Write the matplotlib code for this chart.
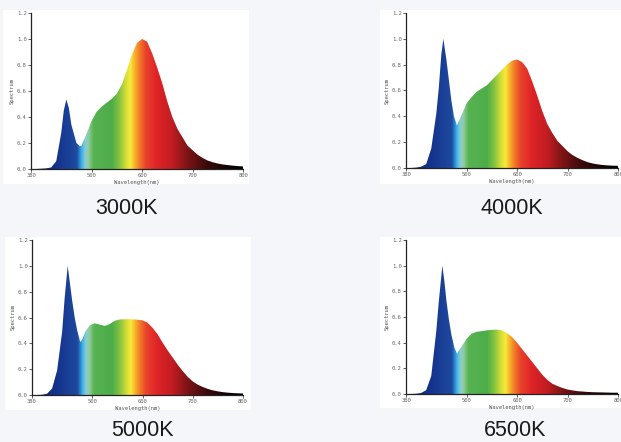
import matplotlib
matplotlib.use("Agg")
import matplotlib.pyplot as plt
import numpy as np
from matplotlib.colors import LinearSegmentedColormap
from matplotlib.patches import Rectangle

# ---------------- data ----------------
titles = ["3000K", "4000K", "5000K", "6500K"]

wl_3000 = [380, 390, 400, 410, 420, 430, 440, 445, 450, 455, 460, 470, 477, 480, 490, 500, 510,
           520, 530, 540, 550, 560, 570, 580, 590, 600, 610, 620, 630, 640, 650, 660, 670, 680,
           690, 700, 710, 720, 730, 740, 750, 760, 770, 780, 790, 800]
sp_3000 = [0.0, 0.0, 0.002, 0.005, 0.012, 0.06, 0.28, 0.45, 0.535, 0.47, 0.34, 0.2, 0.175, 0.18,
           0.27, 0.37, 0.44, 0.48, 0.51, 0.54, 0.58, 0.65, 0.76, 0.88, 0.97, 1.0, 0.98, 0.89, 0.78,
           0.66, 0.52, 0.40, 0.31, 0.245, 0.18, 0.145, 0.11, 0.085, 0.065, 0.052, 0.042, 0.035,
           0.03, 0.026, 0.022, 0.02]

wl_4000 = [380, 390, 400, 410, 420, 430, 440, 445, 450, 454, 460, 465, 470, 475, 481, 490, 500,
           510, 520, 530, 540, 550, 560, 570, 580, 590, 600, 610, 620, 630, 640, 650, 660, 670,
           680, 690, 700, 710, 720, 730, 740, 750, 760, 770, 780, 790, 800]
sp_4000 = [0.0, 0.0, 0.003, 0.01, 0.03, 0.15, 0.42, 0.62, 0.88, 1.0, 0.84, 0.68, 0.52, 0.40, 0.33,
           0.41, 0.50, 0.55, 0.59, 0.615, 0.64, 0.68, 0.72, 0.76, 0.80, 0.83, 0.84, 0.82, 0.77,
           0.67, 0.56, 0.44, 0.34, 0.27, 0.21, 0.17, 0.13, 0.10, 0.078, 0.06, 0.045, 0.035, 0.028,
           0.023, 0.02, 0.018, 0.017]

wl_5000 = [380, 390, 400, 410, 420, 430, 440, 445, 451, 455, 460, 465, 470, 476, 480, 486, 495,
           505, 515, 525, 535, 545, 555, 570, 585, 600, 610, 620, 630, 640, 650, 660, 670, 680,
           690, 700, 710, 720, 730, 740, 750, 760, 770, 780, 790, 800]
sp_5000 = [0.0, 0.0, 0.002, 0.01, 0.05, 0.19, 0.49, 0.75, 1.0, 0.88, 0.73, 0.6, 0.5, 0.41, 0.43,
           0.49, 0.54, 0.555, 0.545, 0.535, 0.55, 0.575, 0.585, 0.587, 0.585, 0.578, 0.56, 0.52,
           0.47, 0.405, 0.345, 0.29, 0.235, 0.185, 0.14, 0.105, 0.08, 0.062, 0.047, 0.036, 0.028,
           0.022, 0.018, 0.015, 0.013, 0.012]

wl_6500 = [380, 390, 400, 410, 420, 430, 440, 445, 452, 456, 460, 465, 470, 476, 481, 490, 500,
           510, 520, 530, 540, 550, 560, 570, 580, 590, 600, 610, 620, 630, 640, 650, 660, 670,
           680, 690, 700, 710, 720, 730, 740, 750, 760, 770, 780, 790, 800]
sp_6500 = [0.0, 0.0, 0.002, 0.008, 0.03, 0.14, 0.49, 0.72, 1.0, 0.88, 0.73, 0.58, 0.46, 0.36,
           0.315, 0.37, 0.43, 0.47, 0.485, 0.49, 0.496, 0.5, 0.502, 0.495, 0.475, 0.445, 0.40,
           0.35, 0.30, 0.25, 0.2, 0.15, 0.11, 0.08, 0.062, 0.047, 0.035, 0.028, 0.022, 0.019,
           0.016, 0.014, 0.013, 0.012, 0.011, 0.01, 0.01]

series = [(wl_3000, sp_3000), (wl_4000, sp_4000), (wl_5000, sp_5000), (wl_6500, sp_6500)]

x_ticks = [380, 500, 600, 700, 800]
x_tick_labels = ["380", "500", "600", "700", "800"]
y_ticks = [0.0, 0.2, 0.4, 0.6, 0.8, 1.0, 1.2]
y_tick_labels = ["0.0", "0.2", "0.4", "0.6", "0.8", "1.0", "1.2"]

# spectrum colour stops (wavelength, colour)
spec_stops = [(380, "#0b1c6e"), (430, "#15338d"), (470, "#1e4a9e"), (475, "#2a7cc9"),
              (480, "#3bb4ea"), (487, "#8ccbd3"), (494, "#8fcc9c"), (503, "#58b352"),
              (540, "#4cad49"), (556, "#8cc540"), (568, "#d4de36"), (577, "#f8ea3a"),
              (585, "#f7b52b"), (595, "#f27a28"), (608, "#e8412b"), (630, "#de2327"),
              (660, "#c11d22"), (690, "#7e1416"), (730, "#3a0a0a"), (775, "#0e0303"),
              (800, "#000000")]

# ---------------- figure ----------------
W, H = 621, 442
fig = plt.figure(figsize=(W / 100, H / 100), dpi=100)
fig.patch.set_facecolor("#f4f6f9")

cmap = LinearSegmentedColormap.from_list(
    "spec", [((w - 380) / 420.0, c) for w, c in spec_stops])
grad = np.linspace(0, 1, 600).reshape(1, -1)

# white card backgrounds (pixels: x0, y0, x1, y1)
cards = [(3, 10, 249, 184), (380, 10, 621, 184), (5, 237, 251, 410), (380, 237, 621, 408)]
for x0, y0, x1, y1 in cards:
    fig.patches.append(Rectangle((x0 / W, 1 - y1 / H), (x1 - x0) / W, (y1 - y0) / H,
                                 transform=fig.transFigure, facecolor="white",
                                 edgecolor="none", zorder=-5))

# axes rectangles in pixels (left, top, right, bottom)
ax_px = [(31, 13, 243, 169), (406, 13, 618, 168), (32, 240, 243, 395), (406, 240, 618, 394)]
label_pos = [(126, 208), (512, 208), (142, 431), (515, 431)]

mono = "DejaVu Sans Mono"
for (l, t, r, b), (wl, sp), title, (lx, ly) in zip(ax_px, series, titles, label_pos):
    ax = fig.add_axes([l / W, 1 - b / H, (r - l) / W, (b - t) / H])
    ax.set_zorder(2)
    ax.set_facecolor("white")
    poly = ax.fill_between(wl, 0, sp, facecolor="none", edgecolor="none")
    path = poly.get_paths()[0]
    im = ax.imshow(grad, extent=[380, 800, 0, 1.2], aspect="auto", cmap=cmap,
                   origin="lower", zorder=1, interpolation="bilinear")
    im.set_clip_path(path, transform=ax.transData)
    ax.set_xlim(380, 800)
    ax.set_ylim(0, 1.2)
    ax.set_xticks(x_ticks)
    ax.set_xticklabels(x_tick_labels, family=mono)
    ax.set_yticks(y_ticks)
    ax.set_yticklabels(y_tick_labels, family=mono)
    for s in ["top", "right"]:
        ax.spines[s].set_visible(False)
    for s in ["left", "bottom"]:
        ax.spines[s].set_linewidth(0.9)
        ax.spines[s].set_color("#222222")
        ax.spines[s].set_zorder(3)
    ax.tick_params(direction="out", length=2, width=0.6, labelsize=4,
                   labelcolor="#666666", color="#444444", pad=1)
    ax.set_xlabel("Wavelength(nm)", fontsize=4, family=mono, color="#555555", labelpad=1)
    ax.set_ylabel("Spectrum", fontsize=4, family=mono, color="#555555", labelpad=2)
    fig.text(lx / W, 1 - ly / H, title, ha="center", va="center",
             fontsize=15.5, family="Liberation Sans", color="#1a1a1a")

fig.savefig("out.png", dpi=100, facecolor=fig.get_facecolor())
